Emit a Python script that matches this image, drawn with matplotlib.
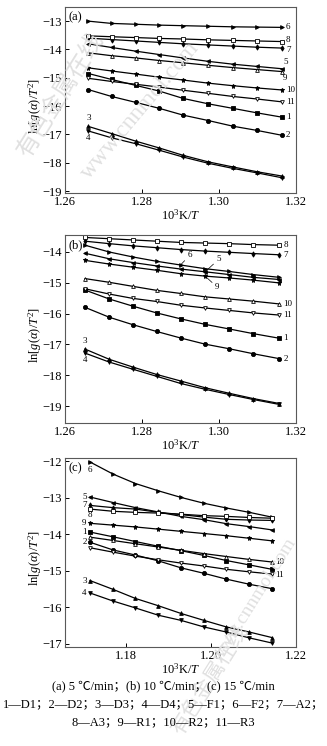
import matplotlib
matplotlib.use("Agg")
import matplotlib.pyplot as plt

plt.rcParams['font.family'] = ['Liberation Serif', 'Noto Sans CJK SC']
plt.rcParams['mathtext.fontset'] = 'custom'
plt.rcParams['mathtext.rm'] = 'Liberation Serif'
plt.rcParams['mathtext.it'] = 'Liberation Serif:italic'

# 10^3 K/T values of the nine conversion points
xa = [1.2661, 1.2721, 1.2784, 1.2845, 1.2907, 1.2972, 1.3036, 1.3099, 1.3163]
xb = [1.2652, 1.2715, 1.2776, 1.2838, 1.2900, 1.2964, 1.3027, 1.3089, 1.3157]
xc = [1.1715, 1.1769, 1.1822, 1.1876, 1.1929, 1.1983, 1.2036, 1.2090, 1.2143]

# (a) 5 C/min
a1 = [-14.85, -15.06, -15.27, -15.47, -15.73, -15.92, -16.08, -16.24, -16.39]
a2 = [-15.42, -15.66, -15.87, -16.08, -16.32, -16.51, -16.71, -16.86, -17.03]
a3 = [-16.72, -16.97, -17.24, -17.48, -17.74, -17.97, -18.15, -18.32, -18.47]
a4 = [-16.88, -17.12, -17.33, -17.56, -17.80, -18.02, -18.20, -18.36, -18.53]
a5 = [-13.80, -13.93, -14.06, -14.18, -14.30, -14.42, -14.52, -14.60, -14.68]
a6 = [-13.00, -13.08, -13.11, -13.14, -13.16, -13.18, -13.20, -13.21, -13.22]
a7 = [-13.60, -13.65, -13.70, -13.75, -13.80, -13.84, -13.88, -13.92, -13.95]
a8 = [-13.52, -13.55, -13.58, -13.61, -13.63, -13.66, -13.68, -13.70, -13.72]
a9 = [-14.12, -14.22, -14.30, -14.39, -14.47, -14.56, -14.64, -14.71, -14.78]
a10 = [-14.65, -14.76, -14.87, -14.98, -15.08, -15.19, -15.28, -15.36, -15.43]
a11 = [-15.02, -15.13, -15.23, -15.33, -15.44, -15.55, -15.66, -15.75, -15.85]

# (b) 10 C/min
b1 = [-15.24, -15.53, -15.76, -15.98, -16.17, -16.35, -16.50, -16.65, -16.80]
b2 = [-15.80, -16.12, -16.36, -16.58, -16.79, -16.99, -17.14, -17.30, -17.46]
b3 = [-17.15, -17.48, -17.73, -17.97, -18.18, -18.40, -18.58, -18.75, -18.91]
b4 = [-17.28, -17.57, -17.80, -18.03, -18.26, -18.45, -18.62, -18.78, -18.94]
b5 = [-14.05, -14.23, -14.35, -14.46, -14.56, -14.65, -14.74, -14.83, -14.90]
b6 = [-13.79, -14.01, -14.17, -14.31, -14.43, -14.55, -14.64, -14.74, -14.83]
b7 = [-13.66, -13.74, -13.81, -13.87, -13.93, -13.98, -14.02, -14.06, -14.10]
b8 = [-13.54, -13.58, -13.62, -13.66, -13.70, -13.72, -13.74, -13.77, -13.79]
b9 = [-14.28, -14.40, -14.50, -14.60, -14.71, -14.79, -14.85, -14.92, -15.01]
b10 = [-14.87, -14.99, -15.12, -15.25, -15.35, -15.46, -15.53, -15.60, -15.69]
b11 = [-15.20, -15.37, -15.51, -15.61, -15.73, -15.82, -15.90, -15.98, -16.05]

# (c) 15 C/min
c1 = [-13.94, -14.07, -14.20, -14.33, -14.45, -14.58, -14.72, -14.84, -14.96]
c2 = [-14.22, -14.43, -14.57, -14.73, -14.92, -15.07, -15.23, -15.37, -15.49]
c3 = [-15.27, -15.51, -15.76, -15.96, -16.17, -16.36, -16.54, -16.68, -16.83]
c4 = [-15.61, -15.83, -16.02, -16.22, -16.36, -16.54, -16.68, -16.84, -16.98]
c5 = [-12.98, -13.13, -13.27, -13.39, -13.51, -13.60, -13.71, -13.79, -13.88]
c6 = [-12.02, -12.35, -12.61, -12.81, -12.99, -13.15, -13.28, -13.40, -13.53]
c7 = [-13.21, -13.27, -13.31, -13.40, -13.46, -13.53, -13.59, -13.61, -13.62]
c8 = [-13.31, -13.37, -13.40, -13.42, -13.45, -13.49, -13.51, -13.54, -13.56]
c9 = [-13.70, -13.75, -13.80, -13.86, -13.92, -13.98, -14.04, -14.11, -14.18]
c10 = [-14.08, -14.17, -14.26, -14.35, -14.44, -14.53, -14.61, -14.69, -14.76]
c11 = [-14.37, -14.49, -14.60, -14.70, -14.79, -14.87, -14.96, -15.03, -15.09]

captions = ["(a) 5 \u2103/min\uff1b(b) 10 \u2103/min\uff1b(c) 15 \u2103/min",
            "1\u2014D1\uff1b2\u2014D2\uff1b3\u2014D3\uff1b4\u2014D4\uff1b5\u2014F1\uff1b6\u2014F2\uff1b7\u2014A2\uff1b",
            "8\u2014A3\uff1b9\u2014R1\uff1b10\u2014R2\uff1b11\u2014R3"]

# marker styles (marker, filled)
sty = {1: ('s', True), 2: ('o', True), 3: ('^', True), 4: ('v', True),
       5: ('<', True), 6: ('>', True), 7: ('d', True), 8: ('s', False),
       9: ('*', True), 10: ('^', False), 11: ('v', False)}
sty_a = dict(sty)
sty_a[9] = ('^', False)
sty_a[10] = ('*', True)


def draw(ax, x, series, styles):
    for k, y in series.items():
        m, filled = styles[k]
        ms = 3.0 if m in ('s', 'o') else 2.7
        if m == '*':
            ms = 3.6
        ax.plot(x, y, color='black', lw=0.9, marker=m, ms=ms,
                mfc='black' if filled else 'white', mec='black', mew=0.6)


def lab(ax, x, y, t, dx, dy, ha='left', va='center', arrow=False):
    kw = {}
    if arrow:
        kw['arrowprops'] = dict(arrowstyle='-', lw=0.5, color='black', shrinkA=0, shrinkB=0)
    ax.annotate(t, xy=(x, y), xytext=(dx, dy), textcoords='offset points',
                ha=ha, va=va, fontsize=6.5, **kw)


def style(ax, xlim, ylim, xticks, yticks):
    ax.set_xlim(*xlim)
    ax.set_ylim(*ylim)
    ax.set_xticks(xticks)
    ax.set_xticklabels(["%.2f" % v for v in xticks])
    ax.set_yticks(yticks)
    ax.set_yticklabels(["\u2212%d" % abs(v) for v in yticks])
    ax.tick_params(direction='in', length=3, width=0.7, pad=2, labelsize=9)
    for s in ax.spines.values():
        s.set_color('0.35')
        s.set_linewidth(0.8)
    ax.set_xlabel(r'$10^3\mathrm{K}/T$', fontsize=9, labelpad=0)
    ax.set_ylabel(r'$\mathrm{ln}[g(\alpha)/T^2]$', fontsize=9)
    ax.yaxis.set_label_coords(-0.09, 0.47)


fig = plt.figure(figsize=(3.27, 7.46), dpi=100)
W, H = 327.0, 746.0
left, width = 65 / W, 231 / W
axa = fig.add_axes([left, 1 - 193 / H, width, 186 / H])
axb = fig.add_axes([left, 1 - 423 / H, width, 188 / H])
axc = fig.add_axes([left, 1 - 647 / H, width, 189 / H])

sa = {1: a1, 2: a2, 3: a3, 4: a4, 5: a5, 6: a6, 7: a7, 8: a8, 9: a9, 10: a10, 11: a11}
sb = {1: b1, 2: b2, 3: b3, 4: b4, 5: b5, 6: b6, 7: b7, 8: b8, 9: b9, 10: b10, 11: b11}
sc = {1: c1, 2: c2, 3: c3, 4: c4, 5: c5, 6: c6, 7: c7, 8: c8, 9: c9, 10: c10, 11: c11}

draw(axa, xa, sa, sty_a)
draw(axb, xb, sb, sty)
draw(axc, xc, sc, sty)

style(axa, (1.26, 1.32), (-19.07, -12.5), [1.26, 1.28, 1.30, 1.32], range(-19, -12))
style(axb, (1.26, 1.32), (-19.54, -13.46), [1.26, 1.28, 1.30, 1.32], range(-19, -13))
style(axc, (1.1656, 1.22), (-17.09, -11.91), [1.18, 1.20, 1.22], range(-17, -11))

for ax, t in ((axa, '(a)'), (axb, '(b)'), (axc, '(c)')):
    ax.text(0.015, 0.975, t, transform=ax.transAxes, ha='left', va='top', fontsize=9)

# labels (a)
for k in (6, 10, 11, 1, 2):
    lab(axa, xa[-1], sa[k][-1], str(k), 3, 0)
lab(axa, xa[-1], a8[-1], '8', 3, 1)
lab(axa, xa[-1], a7[-1], '7', 3, -1.5)
lab(axa, xa[-1], a5[-1], '5', 1, 4.5)
lab(axa, xa[-1], a9[-1], '9', 1, -5)
lab(axa, xa[0], a3[0], '3', 0, 6, ha='center')
lab(axa, xa[0], a4[0], '4', 0, -5, ha='center')

# labels (b)
for k in (8, 7, 10, 11, 1, 2):
    lab(axb, xb[-1], sb[k][-1], str(k), 3, 0)
lab(axb, xb[4], b6[4], '6', 5, 4, va='bottom', arrow=True)
lab(axb, xb[5], b5[5], '5', 8, 6, va='bottom', arrow=True)
lab(axb, xb[5], b9[5], '9', 7, -5, va='top', arrow=True)
lab(axb, xb[0], b3[0], '3', 0, 5.5, ha='center')
lab(axb, xb[0], b4[0], '4', 0, -5, ha='center')

# labels (c)
for k in (5, 7, 9, 1, 2, 3, 4):
    lab(axc, xc[0], sc[k][0], str(k), -2.5, 0, ha='right')
lab(axc, xc[0], c6[0], '6', 0, -6, ha='center')
lab(axc, xc[0], c8[0], '8', 0, -4.5, ha='center')
lab(axc, xc[-1], c10[-1], '10', 2.5, 0)
lab(axc, xc[-1], c11[-1], '11', 2.5, -1)

# captions
for i, t in enumerate(captions):
    fig.text(0.5, 1 - (686 + 18 * i) / H, t, ha='center', va='center', fontsize=9)

# faint watermark
wm = dict(color='0.88', ha='center', va='center', zorder=0)
fig.text(60 / W, 1 - 95 / H, '有色金属在线', rotation=58, fontsize=17,
         family=['Noto Sans CJK SC'], **wm)
fig.text(140 / W, 1 - 110 / H, 'www.cnnmol.com', rotation=50, fontsize=17, **wm)
fig.text(210 / W, 1 - 680 / H, '有色金属在线', rotation=58, fontsize=15,
         family=['Noto Sans CJK SC'], **wm)
fig.text(255 / W, 1 - 600 / H, 'www.cnnmol.com', rotation=58, fontsize=14, **wm)

fig.savefig('out.png', dpi=100)
